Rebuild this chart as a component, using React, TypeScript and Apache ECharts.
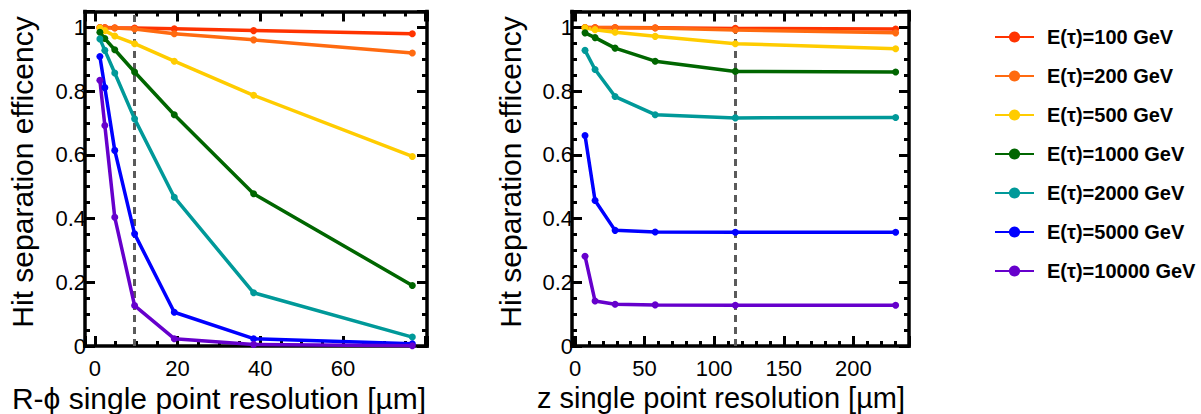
import React, { useEffect, useRef } from "react";
import * as echarts from "echarts";

// Tau energies and their colours
const energyLabels = [
  "E(τ)=100 GeV",
  "E(τ)=200 GeV",
  "E(τ)=500 GeV",
  "E(τ)=1000 GeV",
  "E(τ)=2000 GeV",
  "E(τ)=5000 GeV",
  "E(τ)=10000 GeV",
];
const energyColors = ["#ff3300", "#ff6a10", "#ffcc00", "#006600", "#009999", "#0000ff", "#6600cc"];

// Single point resolutions [µm]
const rphiResolution = [1.2, 2.4, 4.8, 9.6, 19.2, 38.4, 76.8];
const zResolution = [7.2, 14.4, 28.8, 57.6, 115.2, 230.4];

// Nominal resolutions (dashed markers)
const rphiNominal = 9.6;
const zNominal = 115.2;

// Hit separation efficiency vs R-phi resolution, one row per energy
const rphiEff100 = [1.0, 1.0, 0.999, 0.998, 0.996, 0.99, 0.98];
const rphiEff200 = [1.0, 0.999, 0.998, 0.995, 0.98, 0.961, 0.92];
const rphiEff500 = [0.998, 0.99, 0.973, 0.949, 0.894, 0.787, 0.595];
const rphiEff1000 = [0.985, 0.965, 0.93, 0.86, 0.726, 0.478, 0.19];
const rphiEff2000 = [0.964, 0.928, 0.857, 0.713, 0.467, 0.167, 0.028];
const rphiEff5000 = [0.909, 0.811, 0.614, 0.352, 0.106, 0.023, 0.007];
const rphiEff10000 = [0.834, 0.692, 0.404, 0.127, 0.023, 0.005, 0.001];

// Hit separation efficiency vs z resolution, one row per energy
const zEff100 = [1.0, 1.0, 1.0, 0.999, 0.997, 0.995];
const zEff200 = [1.0, 0.999, 0.999, 0.998, 0.992, 0.983];
const zEff500 = [0.999, 0.993, 0.985, 0.972, 0.949, 0.933];
const zEff1000 = [0.983, 0.968, 0.935, 0.894, 0.862, 0.86];
const zEff2000 = [0.928, 0.868, 0.783, 0.726, 0.716, 0.717];
const zEff5000 = [0.661, 0.457, 0.363, 0.358, 0.357, 0.357];
const zEff10000 = [0.282, 0.141, 0.131, 0.129, 0.128, 0.128];

const rphiEff = [rphiEff100, rphiEff200, rphiEff500, rphiEff1000, rphiEff2000, rphiEff5000, rphiEff10000];
const zEff = [zEff100, zEff200, zEff500, zEff1000, zEff2000, zEff5000, zEff10000];

const yTickLabels = [0, 0.2, 0.4, 0.6, 0.8, 1];
const rphiTickLabels = [0, 20, 40, 60];
const zTickLabels = [0, 50, 100, 150, 200];

const FONT = "'Liberation Sans', Arial, Helvetica, sans-serif";

const frameLine = { show: true, onZero: false, lineStyle: { color: "#000", width: 3.5, cap: "square" } };
const majorTick = { show: true, inside: true, length: 10, lineStyle: { color: "#000", width: 3 } };
const minorTick = { show: true, splitNumber: 4, length: 5, lineStyle: { color: "#000", width: 3 } };

const isIn = (list: number[], v: number) => list.some((t) => Math.abs(t - v) < 1e-6);

function xAxes(gridIndex: number, min: number, max: number, labels: number[], minorSplit: number) {
  const base = {
    type: "value",
    gridIndex,
    min,
    max,
    splitNumber: 5,
    axisLine: frameLine,
    axisTick: majorTick,
    minorTick: { ...minorTick, splitNumber: minorSplit },
    splitLine: { show: false },
  };
  return [
    {
      ...base,
      position: "bottom",
      axisLabel: {
        show: true,
        margin: 11,
        fontSize: 22,
        lineHeight: 22,
        color: "#000",
        fontFamily: FONT,
        formatter: (v: number) => (isIn(labels, v) ? String(Math.round(v)) : ""),
      },
    },
    { ...base, position: "top", axisLabel: { show: false } },
  ];
}

function yAxes(gridIndex: number) {
  const base = {
    type: "value",
    gridIndex,
    min: 0,
    max: 1.05,
    interval: 0.2,
    axisLine: frameLine,
    axisTick: majorTick,
    minorTick: { ...minorTick, splitNumber: 4 },
    splitLine: { show: false },
  };
  return [
    {
      ...base,
      position: "left",
      axisLabel: {
        show: true,
        margin: -1,
        align: "right",
        verticalAlign: "middle",
        fontSize: 22,
        lineHeight: 22,
        color: "#000",
        fontFamily: FONT,
        formatter: (v: number) =>
          isIn(yTickLabels, v) ? (v === 0 ? "0" : Math.abs(v - 1) < 1e-6 ? "1" : v.toFixed(1)) : "",
      },
    },
    { ...base, position: "right", axisLabel: { show: false } },
  ];
}

function nominalLine(x: number) {
  return {
    silent: true,
    z: 1,
    symbol: ["none", "none"],
    label: { show: false },
    lineStyle: { color: "#5a5a5a", width: 3, type: [7, 5] },
    emphasis: { disabled: true },
    data: [{ xAxis: x }],
  };
}

export default function App() {
  const ref = useRef<HTMLDivElement>(null);

  useEffect(() => {
    if (!ref.current) return;
    const chart = echarts.init(ref.current, null, { renderer: "svg" });

    const series: any[] = [];
    energyLabels.forEach((name, i) => {
      const common = {
        type: "line",
        name,
        color: energyColors[i],
        symbol: "circle",
        symbolSize: 7,
        showSymbol: true,
        lineStyle: { width: 3.5, color: energyColors[i] },
        itemStyle: { color: energyColors[i] },
        z: 2,
        emphasis: { disabled: true },
      };
      series.push({
        ...common,
        xAxisIndex: 0,
        yAxisIndex: 0,
        data: rphiResolution.map((x, k) => [x, rphiEff[i][k]]),
        markLine: i === 0 ? nominalLine(rphiNominal) : undefined,
      });
      series.push({
        ...common,
        xAxisIndex: 2,
        yAxisIndex: 2,
        data: zResolution.map((x, k) => [x, zEff[i][k]]),
        markLine: i === 0 ? nominalLine(zNominal) : undefined,
      });
    });

    const titleStyle = { fontFamily: FONT, fill: "#000", align: "center", verticalAlign: "middle" };

    chart.setOption({
      animation: false,
      backgroundColor: "#fff",
      grid: [
        { left: 85, top: 11.5, width: 342, height: 334.5, outerBoundsMode: "none", containLabel: false },
        { left: 572, top: 11.5, width: 337, height: 334.5, outerBoundsMode: "none", containLabel: false },
      ],
      xAxis: [
        ...xAxes(0, -2.4, 80.35, rphiTickLabels, 4),
        ...xAxes(1, -2.16, 240, zTickLabels, 5),
      ],
      yAxis: [...yAxes(0), ...yAxes(1)],
      legend: {
        orient: "vertical",
        left: 989,
        top: 22,
        itemWidth: 39,
        itemHeight: 14,
        itemGap: 19,
        selectedMode: false,
        data: energyLabels,
        textStyle: {
          fontFamily: FONT,
          fontWeight: "bold",
          fontSize: 20,
          color: "#000",
          padding: [0, 0, 0, 8],
        },
      },
      graphic: [
        {
          type: "text",
          x: 22,
          y: 172,
          rotation: Math.PI / 2,
          style: { ...titleStyle, text: "Hit separation efficency", fontSize: 30 },
        },
        {
          type: "text",
          x: 510,
          y: 172,
          rotation: Math.PI / 2,
          style: { ...titleStyle, text: "Hit separation efficency", fontSize: 30 },
        },
        {
          type: "text",
          x: 219,
          y: 398,
          style: { ...titleStyle, text: "R-ϕ single point resolution [µm]", fontSize: 30, lineHeight: 30 },
        },
        {
          type: "text",
          x: 721,
          y: 398,
          style: { ...titleStyle, text: "z single point resolution [µm]", fontSize: 29, lineHeight: 30 },
        },
      ],
      series,
    });

    return () => chart.dispose();
  }, []);

  return (
    <div
      ref={ref}
      style={{ position: "fixed", left: 0, top: 0, width: 1201, height: 414, background: "#fff" }}
    />
  );
}
